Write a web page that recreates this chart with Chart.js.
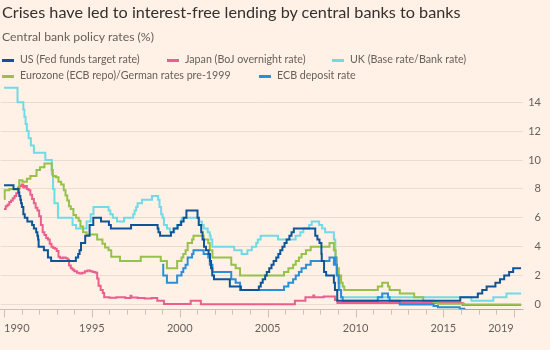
<!DOCTYPE html>
<html>
<head>
<meta charset="utf-8">
<script src="https://cdn.jsdelivr.net/npm/chart.js@4.4.1/dist/chart.umd.min.js"></script>
<style>
  html, body { margin:0; padding:0; background:#fff1e5; }
  #wrap { position:relative; width:550px; height:350px; overflow:hidden; font-family: Lato, "Open Sans", sans-serif; }
  #c { position:absolute; left:0; top:0; }
  .txt { position:absolute; white-space:nowrap; line-height:1; }
  #title { left:2px; top:4px; color:#33302e; font-size:17px; }
  #subtitle { left:2px; top:31px; color:#66605c; font-size:12.5px; }
  .leg { position:absolute; white-space:nowrap; line-height:1; color:#66605c; font-size:12px; }
  .sw { position:absolute; width:12px; height:2.5px; }
</style>
</head>
<body>
<div id="wrap">
  <canvas id="c" width="550" height="350"></canvas>
  <div id="title" class="txt">Crises have led to interest-free lending by central banks to banks</div>
  <div id="subtitle" class="txt">Central bank policy rates (%)</div>
  <div id="legend"></div>
</div>
<script>
// ---------------- DATA ----------------
const seriesNames = [
  "US (Fed funds target rate)",
  "Japan (BoJ overnight rate)",
  "UK (Base rate/Bank rate)",
  "Eurozone (ECB repo)/German rates pre-1999",
  "ECB deposit rate"
];

// US Fed funds target: change dates (decimal year) and new level
const usDates = [1990.0,1990.54,1990.83,1990.87,1990.93,1990.97,1991.02,1991.1,1991.18,1991.33,1991.6,1991.7,1991.83,1991.9,1991.94,1991.97,1992.27,1992.5,1992.68,
  1994.09,1994.22,1994.3,1994.38,1994.62,1994.87,1995.08,1995.52,1995.97,1996.08,1997.23,1998.74,1998.79,1998.88,1999.5,1999.65,1999.88,
  2000.08,2000.22,2000.38,2001.01,2001.08,2001.22,2001.3,2001.38,2001.49,2001.64,2001.72,2001.78,2001.85,2001.95,2002.85,2003.48,
  2004.5,2004.61,2004.72,2004.86,2004.95,2005.09,2005.22,2005.34,2005.49,2005.61,2005.72,2005.84,2005.96,2006.08,2006.24,2006.36,2006.49,
  2007.71,2007.83,2007.95,2008.06,2008.08,2008.21,2008.33,2008.77,2008.83,2008.96,
  2015.96,2016.96,2017.21,2017.46,2017.96,2018.22,2018.46,2018.74,2018.97,2019.42];
const usRates = [8.25,8.0,7.75,7.5,7.25,7.0,6.75,6.25,6.0,5.75,5.5,5.25,5.0,4.75,4.5,4.0,3.75,3.25,3.0,
  3.25,3.5,3.75,4.25,4.75,5.5,6.0,5.75,5.5,5.25,5.5,5.25,5.0,4.75,5.0,5.25,5.5,
  5.75,6.0,6.5,6.0,5.5,5.0,4.5,4.0,3.75,3.5,3.0,2.5,2.0,1.75,1.25,1.0,
  1.25,1.5,1.75,2.0,2.25,2.5,2.75,3.0,3.25,3.5,3.75,4.0,4.25,4.5,4.75,5.0,5.25,
  4.75,4.5,4.25,3.5,3.0,2.25,2.0,1.5,1.0,0.25,
  0.5,0.75,1.0,1.25,1.5,1.75,2.0,2.25,2.5,2.5];

// Japan overnight call rate
const japanDates = [1990.0,1990.1,1990.2,1990.3,1990.4,1990.5,1990.6,1990.7,1990.8,1990.9,
  1991.0,1991.1,1991.2,1991.3,1991.4,1991.5,1991.6,1991.7,1991.8,1991.9,
  1992.0,1992.1,1992.2,1992.3,1992.4,1992.5,1992.6,1992.7,1992.8,1992.9,
  1993.0,1993.1,1993.2,1993.35,1993.5,1993.62,1993.7,1993.8,1993.9,
  1994.0,1994.15,1994.3,1994.45,1994.6,1994.75,1994.9,
  1995.05,1995.2,1995.3,1995.38,1995.5,1995.62,1995.7,
  1996.0,1996.4,1996.9,1997.2,1997.25,1997.6,1998.0,1998.4,1998.72,1999.1,
  2000.62,2001.2,2006.55,2007.15,2007.6,2007.65,2008.2,2008.83,2008.97,2016.1,2019.42];
const japanRates = [6.6,6.8,6.9,7.1,7.2,7.35,7.5,7.7,8.1,8.2,
  8.3,8.1,8.2,8.0,7.9,7.6,7.3,7.0,6.7,6.5,
  6.1,5.5,5.0,4.8,4.6,4.5,4.2,4.0,3.9,3.85,
  3.7,3.3,3.2,3.25,3.2,3.1,2.7,2.5,2.4,
  2.3,2.2,2.15,2.2,2.3,2.35,2.3,
  2.25,2.2,1.8,1.3,1.0,0.8,0.5,
  0.47,0.5,0.45,0.6,0.48,0.45,0.42,0.45,0.25,0.03,
  0.25,0.02,0.25,0.5,0.62,0.5,0.55,0.3,0.1,-0.04,-0.04];

// UK Base rate / Bank rate
const ukDates = [1990.0,1990.77,1991.1,1991.16,1991.23,1991.3,1991.4,1991.53,1991.7,1992.35,1992.72,1992.79,1992.87,1993.07,1993.9,
  1994.1,1994.7,1994.93,1995.09,1995.95,1996.05,1996.19,1996.43,1996.83,1997.35,1997.43,1997.52,1997.6,1997.85,1998.42,1998.77,1998.85,1998.94,
  1999.02,1999.1,1999.27,1999.44,1999.69,1999.84,2000.04,2000.11,2001.1,2001.26,2001.36,2001.59,2001.71,2001.76,2001.85,
  2003.1,2003.52,2003.85,2004.1,2004.35,2004.44,2004.6,2005.59,2006.59,2006.86,2007.03,2007.36,2007.51,2007.93,
  2008.1,2008.27,2008.77,2008.85,2008.92,2009.02,2009.1,2009.17,2016.59,2017.84,2018.59,2019.42];
const ukRates = [15.0,14.0,13.5,13.0,12.5,12.0,11.5,11.0,10.5,10.0,9.0,8.0,7.0,6.0,5.5,
  5.25,5.75,6.25,6.75,6.5,6.25,6.0,5.75,6.0,6.25,6.5,6.75,7.0,7.25,7.5,7.25,6.75,6.25,
  6.0,5.5,5.25,5.0,5.25,5.5,5.75,6.0,5.75,5.5,5.25,5.0,4.75,4.5,4.0,
  3.75,3.5,3.75,4.0,4.25,4.5,4.75,4.5,4.75,5.0,5.25,5.5,5.75,5.5,
  5.25,5.0,4.5,3.0,2.0,1.5,1.0,0.5,0.25,0.5,0.75,0.75];

// Eurozone refi rate (German repo rate before 1999)
const euroDates = [1990.0,1990.04,1990.3,1990.55,1990.87,1991.05,1991.3,1991.5,1991.85,1992.05,1992.3,1992.72,1992.78,1992.95,
  1993.1,1993.25,1993.4,1993.5,1993.6,1993.7,1993.8,1993.95,1994.1,1994.25,1994.35,1994.5,1994.7,1995.0,1995.3,1995.6,1995.75,1995.95,
  1996.1,1996.6,1997.78,1998.92,
  1999.27,1999.85,2000.1,2000.2,2000.33,2000.45,2000.7,2000.78,2001.36,2001.62,2001.71,2001.86,2002.93,2003.18,2003.43,
  2005.93,2006.18,2006.45,2006.6,2006.78,2006.93,2007.18,2007.45,2008.52,2008.77,2008.87,2008.94,
  2009.05,2009.18,2009.27,2009.36,2011.27,2011.52,2011.85,2011.94,2012.52,2013.34,2013.85,2014.44,2014.69,2016.19,2019.42];
const euroRates = [7.3,7.9,8.0,7.95,8.6,8.5,8.7,8.9,9.3,9.5,9.75,9.3,8.9,8.8,
  8.5,8.3,7.9,7.55,7.2,6.8,6.6,6.2,6.0,5.8,5.4,5.0,4.85,4.85,4.5,4.2,3.95,3.75,
  3.3,3.0,3.3,3.0,
  2.5,3.0,3.25,3.5,3.75,4.25,4.5,4.75,4.5,4.25,3.75,3.25,2.75,2.5,2.0,
  2.25,2.5,2.75,3.0,3.25,3.5,3.75,4.0,4.25,3.75,3.25,2.5,
  2.0,1.5,1.25,1.0,1.25,1.5,1.25,1.0,0.75,0.5,0.25,0.15,0.05,0.0,0.0];

// ECB deposit rate
const ecbDates = [1999.0,1999.06,1999.27,1999.85,2000.1,2000.2,2000.33,2000.45,2000.7,2000.78,2001.36,2001.62,2001.71,2001.86,2002.93,2003.18,2003.43,
  2005.93,2006.18,2006.45,2006.6,2006.78,2006.93,2007.18,2007.45,2008.52,2008.77,2008.79,2008.87,2008.94,
  2009.05,2009.18,2009.27,2011.27,2011.52,2011.85,2011.94,2012.52,2014.44,2014.69,2015.93,2016.19,2019.42];
const ecbRates = [2.75,2.0,1.5,2.0,2.25,2.5,2.75,3.25,3.5,3.75,3.5,3.25,2.75,2.25,1.75,1.5,1.0,
  1.25,1.5,1.75,2.0,2.25,2.5,2.75,3.0,3.25,2.75,3.25,2.75,2.0,
  1.0,0.5,0.25,0.5,0.75,0.5,0.25,0.0,-0.1,-0.2,-0.3,-0.4,-0.4];

const yTickValues = [0, 2, 4, 6, 8, 10, 12, 14];
const xTickYears = [1990,1991,1992,1993,1994,1995,1996,1997,1998,1999,2000,2001,2002,2003,2004,2005,2006,2007,2008,2009,2010,2011,2012,2013,2014,2015,2016,2017,2018,2019];
const xLabelYears = [1990, 1995, 2000, 2005, 2010, 2015, 2019];

// ---------------- STYLE ----------------
const colors = ['#0f5499', '#eb5e8d', '#70dbe8', '#96c14a', '#2b8fd8'];
const legendPos = [ [2,60], [167,60], [332,60], [2,76], [259,76] ];
const drawOrder = [0, 4, 3, 2, 1]; // first drawn on top

function pts(d, v) { const n = Math.min(d.length, v.length); const out=[]; for (let i=0;i<n;i++) out.push({x:d[i], y:v[i]}); return out; }
const allSeries = [pts(usDates,usRates), pts(japanDates,japanRates), pts(ukDates,ukRates), pts(euroDates,euroRates), pts(ecbDates,ecbRates)];

// Legend (HTML)
const legend = document.getElementById('legend');
seriesNames.forEach((name, i) => {
  const [lx, ly] = legendPos[i];
  const sw = document.createElement('div');
  sw.className = 'sw'; sw.style.left = lx + 'px'; sw.style.top = (ly - 1) + 'px'; sw.style.background = colors[i];
  legend.appendChild(sw);
  const t = document.createElement('div');
  t.className = 'leg'; t.textContent = name; t.style.left = (lx + 18) + 'px'; t.style.top = (ly - 6) + 'px';
  legend.appendChild(t);
});

// fit text widths
function fitWidth(el, target) {
  const w = el.getBoundingClientRect().width;
  const fs = parseFloat(getComputedStyle(el).fontSize);
  el.style.fontSize = (fs * target / w) + 'px';
}
fitWidth(document.getElementById('title'), 459);
fitWidth(document.getElementById('subtitle'), 152);
const legEls = document.querySelectorAll('.leg');
{
  const w = legEls[3].getBoundingClientRect().width;
  const fs = parseFloat(getComputedStyle(legEls[3]).fontSize);
  const nfs = fs * 211 / w;
  legEls.forEach(e => e.style.fontSize = nfs + 'px');
}

const tickPlugin = {
  id: 'xticks',
  afterDraw(chart) {
    const s = chart.scales.x, ctx = chart.ctx;
    ctx.save();
    ctx.strokeStyle = '#cbc1b7'; ctx.lineWidth = 1;
    s.ticks.forEach(t => {
      const px = Math.round(s.getPixelForValue(t.value)) + 0.5;
      const len = xLabelYears.includes(t.value) ? 8 : 5;
      ctx.beginPath(); ctx.moveTo(px, s.top); ctx.lineTo(px, s.top + len); ctx.stroke();
    });
    ctx.restore();
  }
};

new Chart(document.getElementById('c'), {
  type: 'line',
  data: {
    datasets: drawOrder.map(i => ({
      label: seriesNames[i],
      data: allSeries[i],
      borderColor: colors[i],
      borderWidth: 2,
      pointRadius: 0,
      stepped: true,
      fill: false,
      tension: 0
    }))
  },
  options: {
    responsive: false,
    animation: false,
    layout: { padding: { left: 0, top: 82, right: 9, bottom: 0 } },
    plugins: { legend: { display: false }, tooltip: { enabled: false }, title: { display: false } },
    scales: {
      x: {
        type: 'linear',
        min: 1989.81, max: 2019.53,
        afterBuildTicks: s => { s.ticks = xTickYears.map(v => ({ value: v })); },
        afterFit: s => { s.height = 40.5; },
        grid: { display: true, drawOnChartArea: false, drawTicks: true, tickLength: 8, color: 'rgba(0,0,0,0)' },
        border: { display: true, color: '#cbc1b7', width: 1 },
        ticks: {
          autoSkip: false, maxRotation: 0, align: 'inner', padding: 4,
          color: '#66605c', font: { family: 'Lato', size: 11 },
          callback: v => xLabelYears.includes(v) ? String(v) : ''
        }
      },
      y: {
        position: 'right',
        min: -0.35, max: 15.4,
        afterBuildTicks: s => { s.ticks = yTickValues.map(v => ({ value: v })); },
        afterFit: s => { s.width = 18; },
        grid: { color: '#e9dcd0', lineWidth: 1, drawTicks: false },
        border: { display: false },
        ticks: { color: '#66605c', crossAlign: 'far', padding: 0, font: { family: 'Lato', size: 11 } }
      }
    }
  },
  plugins: [tickPlugin]
});
</script>
</body>
</html>
